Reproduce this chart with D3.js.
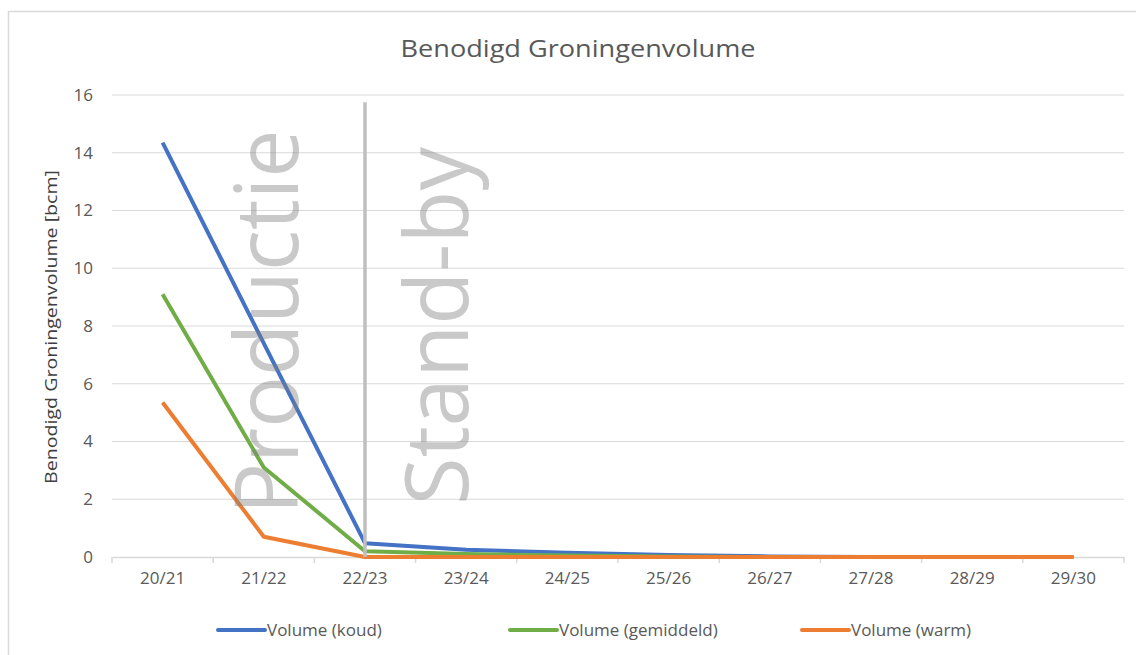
<!DOCTYPE html>
<html>
<head>
<meta charset="utf-8">
<script src="https://cdn.jsdelivr.net/npm/d3@7"></script>
<style>
  body { margin: 0; background: #fff; overflow: hidden; }
  text { font-family: "Open Sans", Lato, sans-serif; }
</style>
</head>
<body>
<svg width="1136" height="655"></svg>
<script>
const seasons = ["20/21", "21/22", "22/23", "23/24", "24/25", "25/26", "26/27", "27/28", "28/29", "29/30"];
const koud = [14.35, 7.4, 0.48, 0.25, 0.15, 0.07, 0.02, 0, 0, 0];
const gemiddeld = [9.1, 3.1, 0.2, 0.1, 0.05, 0.02, 0, 0, 0, 0];
const warm = [5.35, 0.7, 0, 0, 0, 0, 0, 0, 0, 0];
const yTicks = [0, 2, 4, 6, 8, 10, 12, 14, 16];
const seriesNames = ["Volume (koud)", "Volume (gemiddeld)", "Volume (warm)"];
const colors = ["#4472c4", "#70ad47", "#ed7d31"];
const splitAt = "22/23";
const splitTop = 15.75;

const svg = d3.select("svg");
const grey = "#595959";

// chart frame (right/bottom edges fall outside the picture)
svg.append("rect")
    .attr("x", 8.5).attr("y", 11.5)
    .attr("width", 1160).attr("height", 660)
    .attr("fill", "none").attr("stroke", "#d9d9d9").attr("stroke-width", 1.5);

var x = d3.scaleBand().domain(seasons).range([112, 1124]);
var y = d3.scaleLinear().domain([0, 16]).range([557, 95]);
const cx = d => x(d) + x.bandwidth() / 2;

// gridlines
svg.append("g")
    .selectAll("line")
    .data(yTicks.slice(1))
    .enter().append("line")
    .attr("x1", 112).attr("x2", 1124)
    .attr("y1", d => y(d)).attr("y2", d => y(d))
    .attr("stroke", "#d9d9d9").attr("stroke-width", 1.2);

// y axis labels
svg.append("g")
    .attr("transform", "translate(112,0)")
    .call(d3.axisLeft(y).tickValues(yTicks).tickSize(0).tickPadding(19))
    .call(g => g.select(".domain").remove())
    .selectAll("text")
    .attr("fill", grey).attr("font-size", 17);

// x axis
var xAxis = svg.append("g")
    .attr("transform", "translate(0,557)")
    .call(d3.axisBottom(x).tickSize(0).tickPadding(15));
xAxis.select(".domain").attr("stroke", "#d9d9d9").attr("stroke-width", 1.5);
xAxis.selectAll("text").attr("fill", grey).attr("font-size", 17);
xAxis.selectAll(".sep")
    .data(seasons.concat(["end"]))
    .enter().append("line")
    .attr("class", "sep")
    .attr("x1", (d, i) => 112 + i * x.step()).attr("x2", (d, i) => 112 + i * x.step())
    .attr("y1", 0).attr("y2", 6)
    .attr("stroke", "#d9d9d9").attr("stroke-width", 1.5);

// title + axis title
svg.append("text")
    .attr("x", 578).attr("y", 57)
    .attr("text-anchor", "middle")
    .attr("font-size", 24).attr("fill", grey)
    .attr("textLength", 355).attr("lengthAdjust", "spacingAndGlyphs")
    .text("Benodigd Groningenvolume");

svg.append("text")
    .attr("transform", "translate(57,327) rotate(-90)")
    .attr("text-anchor", "middle")
    .attr("font-size", 17).attr("fill", "#404040")
    .attr("textLength", 314).attr("lengthAdjust", "spacingAndGlyphs")
    .text("Benodigd Groningenvolume [bcm]");

// series, warm on top
const series = [koud, gemiddeld, warm];
var line = d3.line()
    .x((d, i) => cx(seasons[i]))
    .y(d => y(d));

svg.append("g")
    .selectAll("path")
    .data(series)
    .enter().append("path")
    .attr("d", line)
    .attr("fill", "none")
    .attr("stroke", (d, i) => colors[i])
    .attr("stroke-width", 4)
    .attr("stroke-linejoin", "round");

// production / stand-by split
svg.append("line")
    .attr("x1", cx(splitAt)).attr("x2", cx(splitAt))
    .attr("y1", y(splitTop)).attr("y2", y(0))
    .attr("stroke", "#bfbfbf").attr("stroke-width", 3.5);

svg.append("text")
    .attr("transform", "translate(298,322) rotate(-90)")
    .attr("text-anchor", "middle")
    .attr("font-size", 88)
    .attr("textLength", 385).attr("lengthAdjust", "spacingAndGlyphs")
    .attr("fill", "#7f7f7f").attr("fill-opacity", 0.42)
    .text("Productie");

svg.append("text")
    .attr("transform", "translate(468,326) rotate(-90)")
    .attr("text-anchor", "middle")
    .attr("font-size", 88)
    .attr("textLength", 358).attr("lengthAdjust", "spacingAndGlyphs")
    .attr("fill", "#7f7f7f").attr("fill-opacity", 0.42)
    .text("Stand-by");

// legend, equal-width slots
const legendX = [218, 510, 802];
var legend = svg.append("g")
    .selectAll("g")
    .data(seriesNames)
    .enter().append("g")
    .attr("transform", (d, i) => `translate(${legendX[i]},630)`);
legend.append("line")
    .attr("x1", 0).attr("x2", 47)
    .attr("stroke", (d, i) => colors[i])
    .attr("stroke-width", 4).attr("stroke-linecap", "round");
legend.append("text")
    .attr("x", 49).attr("y", 6)
    .attr("font-size", 17).attr("fill", grey)
    .text(d => d);
</script>
</body>
</html>
